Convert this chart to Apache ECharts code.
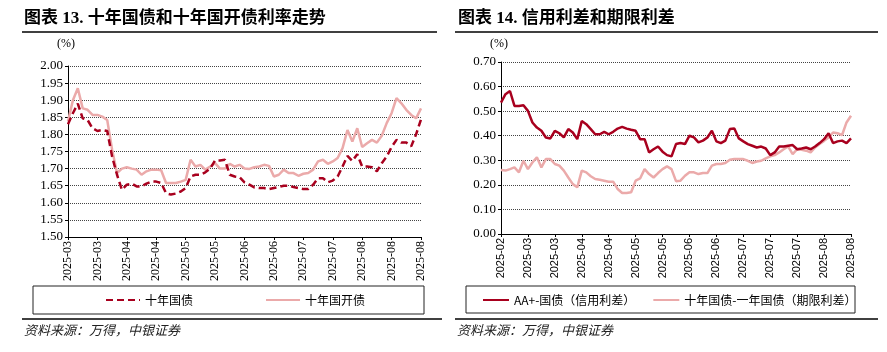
<!DOCTYPE html>
<html>
<head>
    <meta charset="utf-8" />
    <title></title>
    <script src="https://cdn.jsdelivr.net/npm/echarts@6.0.0/dist/echarts.min.js"></script>
    <style>html, body { margin: 0; padding: 0; background: #fff; }</style>
</head>
<body>
    <div id="divChart" style="width:887px;height:352px;"></div>
    <script>
        // 图表13：十年国债 / 十年国开债（%）
        let leftTicks = ['2025-03', '2025-03', '2025-04', '2025-04', '2025-05', '2025-05', '2025-06', '2025-06', '2025-07', '2025-07', '2025-08', '2025-08', '2025-08'];
        let govt10y = [1.830, 1.862, 1.890, 1.847, 1.842, 1.818, 1.810, 1.813, 1.810, 1.735,
            1.682, 1.638, 1.653, 1.656, 1.648, 1.648, 1.656, 1.662, 1.662, 1.658,
            1.628, 1.624, 1.627, 1.633, 1.643, 1.677, 1.682, 1.682, 1.689, 1.700,
            1.724, 1.724, 1.726, 1.682, 1.677, 1.675, 1.660, 1.653, 1.645, 1.643,
            1.643, 1.640, 1.643, 1.646, 1.650, 1.650, 1.646, 1.643, 1.640, 1.640,
            1.653, 1.672, 1.672, 1.660, 1.665, 1.677, 1.706, 1.737, 1.722, 1.742,
            1.706, 1.706, 1.704, 1.692, 1.716, 1.735, 1.763, 1.784, 1.776, 1.776,
            1.765, 1.800, 1.844];
        let cdb10y = [1.838, 1.900, 1.935, 1.876, 1.872, 1.857, 1.857, 1.852, 1.842, 1.755,
            1.687, 1.700, 1.704, 1.700, 1.697, 1.682, 1.692, 1.697, 1.697, 1.695,
            1.658, 1.658, 1.658, 1.662, 1.667, 1.726, 1.706, 1.711, 1.697, 1.706,
            1.716, 1.700, 1.700, 1.714, 1.706, 1.711, 1.700, 1.699, 1.704, 1.706,
            1.711, 1.708, 1.677, 1.682, 1.697, 1.687, 1.687, 1.679, 1.685, 1.687,
            1.697, 1.721, 1.726, 1.714, 1.721, 1.731, 1.760, 1.813, 1.779, 1.818,
            1.763, 1.774, 1.784, 1.776, 1.796, 1.833, 1.862, 1.906, 1.891, 1.872,
            1.857, 1.847, 1.876];

        // 图表14：信用利差 / 期限利差（%）
        let rightTicks = ['2025-02', '2025-03', '2025-03', '2025-04', '2025-04', '2025-05', '2025-05', '2025-06', '2025-06', '2025-07', '2025-07', '2025-07', '2025-08', '2025-08'];
        let creditSpread = [0.535, 0.569, 0.582, 0.521, 0.521, 0.524, 0.501, 0.454, 0.433, 0.420,
            0.393, 0.389, 0.420, 0.410, 0.393, 0.427, 0.413, 0.386, 0.460, 0.447,
            0.427, 0.406, 0.406, 0.416, 0.406, 0.416, 0.429, 0.436, 0.429, 0.424,
            0.420, 0.386, 0.386, 0.332, 0.345, 0.356, 0.335, 0.321, 0.316, 0.366,
            0.370, 0.366, 0.400, 0.393, 0.373, 0.380, 0.393, 0.420, 0.377, 0.370,
            0.380, 0.427, 0.429, 0.389, 0.377, 0.366, 0.359, 0.352, 0.356, 0.348,
            0.321, 0.332, 0.356, 0.356, 0.359, 0.362, 0.345, 0.348, 0.352, 0.345,
            0.356, 0.370, 0.386, 0.410, 0.370, 0.377, 0.380, 0.370, 0.389];
        let termSpread = [0.260, 0.258, 0.264, 0.271, 0.251, 0.298, 0.264, 0.291, 0.312, 0.271,
            0.305, 0.305, 0.285, 0.278, 0.258, 0.230, 0.203, 0.190, 0.258, 0.251,
            0.235, 0.224, 0.221, 0.217, 0.213, 0.213, 0.183, 0.167, 0.167, 0.170,
            0.217, 0.226, 0.264, 0.244, 0.230, 0.248, 0.264, 0.275, 0.264, 0.215,
            0.217, 0.237, 0.251, 0.251, 0.244, 0.248, 0.248, 0.278, 0.285, 0.285,
            0.289, 0.302, 0.305, 0.305, 0.305, 0.298, 0.289, 0.295, 0.298, 0.308,
            0.316, 0.321, 0.332, 0.345, 0.356, 0.325, 0.345, 0.343, 0.339, 0.332,
            0.352, 0.366, 0.379, 0.393, 0.413, 0.410, 0.402, 0.454, 0.481];

        let STEP = 6; // 每个刻度标签之间的数据点数
        let DARK = '#A8001E';
        let PINK = '#EBAAAA';
        let SERIF = "'Liberation Serif', 'Noto Sans CJK SC'";
        let CJK = "'Noto Sans CJK SC'";

        function indexCats(n) {
            var arr = [];
            for (var i = 0; i < n; i++) arr.push(String(i));
            return arr;
        }

        function makeXAxis(gridIndex, n, ticks, family, size) {
            return {
                type: 'category',
                gridIndex: gridIndex,
                data: indexCats(n),
                boundaryGap: false,
                axisLine: { lineStyle: { color: '#000', width: 1 } },
                axisTick: { show: true, interval: STEP - 1, length: 3, lineStyle: { color: '#000' } },
                axisLabel: {
                    interval: STEP - 1,
                    rotate: 90,
                    margin: 4,
                    color: '#000',
                    fontFamily: family,
                    fontSize: size,
                    formatter: function (v) {
                        return ticks[Math.round(parseInt(v, 10) / STEP)] || '';
                    }
                },
                splitLine: { show: false }
            };
        }

        function makeYAxis(gridIndex, min, max, interval) {
            return {
                type: 'value',
                gridIndex: gridIndex,
                min: min,
                max: max,
                interval: interval,
                axisLine: { show: true, lineStyle: { color: '#000', width: 1 } },
                axisTick: { show: true, length: 3, lineStyle: { color: '#000' } },
                axisLabel: {
                    color: '#000',
                    fontFamily: 'Liberation Serif',
                    fontSize: 13,
                    margin: 5,
                    formatter: function (v) { return v.toFixed(2); }
                },
                splitLine: { lineStyle: { color: '#444', type: [1, 1], width: 1 } }
            };
        }

        function txt(left, top, text, font, fill) {
            return { type: 'text', left: left, top: top, style: { text: text, font: font, fill: fill || '#000' } };
        }
        function hline(x1, x2, y, w) {
            return { type: 'line', shape: { x1: x1, y1: y, x2: x2, y2: y }, style: { stroke: '#000', lineWidth: w } };
        }
        function box(x, y, w, h) {
            return { type: 'rect', shape: { x: x, y: y, width: w, height: h }, style: { fill: 'none', stroke: '#222', lineWidth: 1 } };
        }

        function InitChart() {
            var legendBase = {
                padding: 0,
                itemHeight: 10,
                itemStyle: { opacity: 0, borderWidth: 0 },
                textStyle: { fontFamily: CJK, fontSize: 12, color: '#000' }
            };
            var option = {
                animation: false,
                backgroundColor: '#fff',
                grid: [
                    { left: 68, top: 66, width: 353, height: 171 },
                    { left: 501, top: 62, width: 350, height: 172 }
                ],
                xAxis: [
                    makeXAxis(0, govt10y.length, leftTicks, 'Liberation Serif', 12),
                    makeXAxis(1, creditSpread.length, rightTicks, 'Liberation Sans', 11)
                ],
                yAxis: [
                    makeYAxis(0, 1.5, 2.0, 0.05),
                    makeYAxis(1, 0, 0.7, 0.1)
                ],
                legend: [
                    Object.assign({}, legendBase, {
                        left: 105, top: 294, itemWidth: 34, itemGap: 72,
                        data: ['十年国债', '十年国开债']
                    }),
                    Object.assign({}, legendBase, {
                        left: 482, top: 294, itemWidth: 26, itemGap: 17,
                        data: ['AA+-国债（信用利差）', '十年国债-一年国债（期限利差）']
                    })
                ],
                graphic: [
                    txt(24, 10, '图表 13. 十年国债和十年国开债利率走势', 'bold 17px ' + SERIF),
                    txt(458, 10, '图表 14. 信用利差和期限利差', 'bold 17px ' + SERIF),
                    hline(22, 437, 32, 1.5),
                    hline(455, 878, 32, 1.5),
                    txt(57, 38, '(%)', '12px Liberation Serif'),
                    txt(490, 38, '(%)', '12px Liberation Serif'),
                    box(33, 286, 391, 28),
                    box(466, 286, 389, 27),
                    hline(22, 442, 319, 1.5),
                    hline(455, 878, 319, 1.5),
                    txt(24, 324, '资料来源：万得，中银证券', 'italic 13px ' + CJK, '#222'),
                    txt(457, 324, '资料来源：万得，中银证券', 'italic 13px ' + CJK, '#222')
                ],
                series: [
                    {
                        name: '十年国债', type: 'line', xAxisIndex: 0, yAxisIndex: 0,
                        data: govt10y, symbol: 'none', showSymbol: false, z: 3,
                        lineStyle: { color: DARK, width: 2.5, type: [7, 4] }, itemStyle: { color: DARK }
                    },
                    {
                        name: '十年国开债', type: 'line', xAxisIndex: 0, yAxisIndex: 0,
                        data: cdb10y, symbol: 'none', showSymbol: false, z: 2,
                        lineStyle: { color: PINK, width: 2.5 }, itemStyle: { color: PINK }
                    },
                    {
                        name: 'AA+-国债（信用利差）', type: 'line', xAxisIndex: 1, yAxisIndex: 1,
                        data: creditSpread, symbol: 'none', showSymbol: false, z: 3,
                        lineStyle: { color: DARK, width: 2.5 }, itemStyle: { color: DARK }
                    },
                    {
                        name: '十年国债-一年国债（期限利差）', type: 'line', xAxisIndex: 1, yAxisIndex: 1,
                        data: termSpread, symbol: 'none', showSymbol: false, z: 2,
                        lineStyle: { color: PINK, width: 2.5 }, itemStyle: { color: PINK }
                    }
                ]
            };
            echarts.init(document.getElementById('divChart')).setOption(option);
        }

        InitChart();
    </script>
</body>
</html>
